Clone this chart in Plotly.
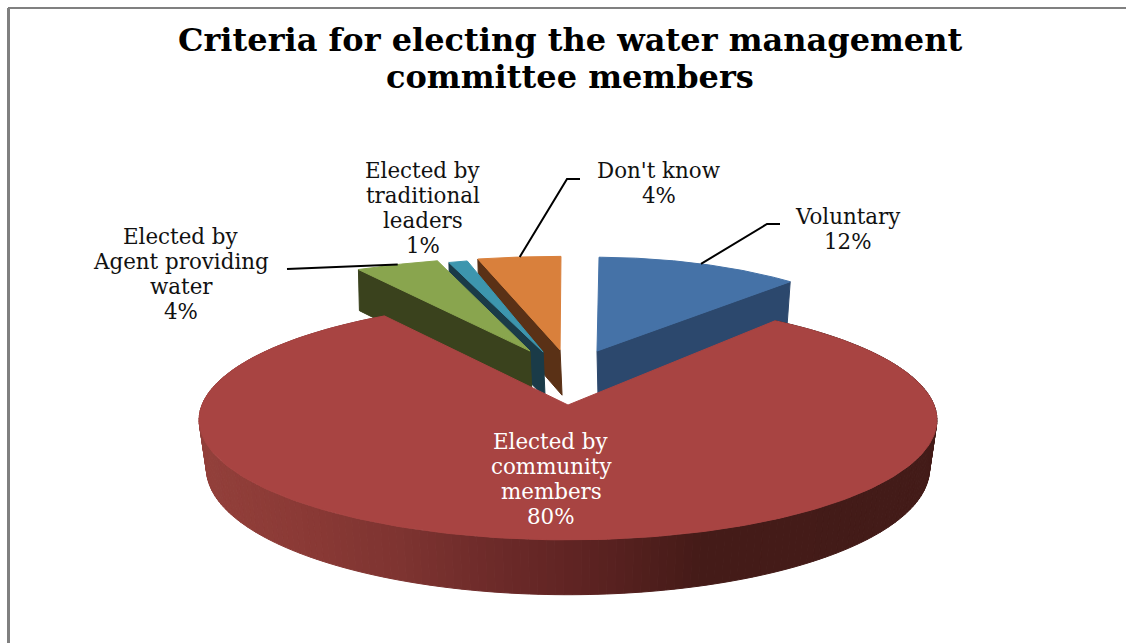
import numpy as np
import plotly.graph_objects as go

# Survey results, in percent
categories = [["Voluntary"], ["Elected by", "community", "members"],
              ["Elected by", "Agent providing", "water"],
              ["Elected by", "traditional", "leaders"], ["Don't know"]]
values = [12, 80, 4, 1, 4]
title_lines = ["Criteria for electing the water management", "committee members"]

# Slice styling: top face, cut wall
top_colors = ["#4572A7", "#A84442", "#89A54E", "#3D96AE", "#D9803C"]
wall_colors = ["#2C486D", "#A84442", "#3A421D", "#1A3B48", "#5A3116"]

# Projection of the pie plane onto the page
CX, CY = 568.0, 405.0
A, B, K = 366.0, 118.0, 0.125
HEIGHT = 48.0
BASE_SHRINK = 0.98
START_DEG = -1.0

# Exploded position of each slice in the pie plane, plus small per-slice fit terms
explode = [(0.084, 0.485), (0.0, 0.0), (-0.11, 0.485), (-0.072, 0.475), (-0.023, 0.495)]
turn_deg = [2.0, -3.8, -1.4, -3.3, -2.6]
x_stretch = [0.88, 1.0, 1.08, 0.97, 1.08]

# Shading along the rim of the large slice (page x, colour)
rim_x = [199, 300, 400, 500, 580, 700, 937]
rim_rgb = [(147, 64, 59), (139, 58, 54), (126, 52, 49), (108, 42, 41), (95, 36, 35), (69, 27, 24), (67, 27, 24)]

# Label placement: centre x, first line y, line step
label_place = [(848, 216, 25), (551, 441, 25), (181, 236, 25), (423, 170, 25), (659, 170, 25)]
LABEL_SIZE = 21.4
TITLE_SIZE = 32
TITLE_X, TITLE_Y, TITLE_STEP = 570, 39.5, 37.5


def project(px, py):
    s = 1.0 / (1.0 + K * py)
    return CX + A * px * s, CY - B * py * s, s


def wedge(i, a0, a1, n=80):
    """Page coordinates of a slice's apex and rim, with the drop of each point."""
    ox, oy = explode[i]
    ang = np.radians(np.linspace(a0 + turn_deg[i], a1 + turn_deg[i], n))
    xa, ya, sa = project(ox, oy)
    xr, yr, sr = project(ox + np.sin(ang), oy + np.cos(ang))
    xr = xa + (xr - xa) * x_stretch[i]
    return (xa, ya, HEIGHT * sa), (xr, yr, HEIGHT * sr)


def poly(xs, ys, color):
    return go.Scatter(x=list(xs), y=list(ys), mode="lines", fill="toself", fillcolor=color,
                      line=dict(color=color, width=1), hoverinfo="skip", showlegend=False)


def lowered(x, y, drop):
    return CX + (x - CX) * BASE_SHRINK, y + drop


fig = go.Figure()

edges = START_DEG + np.cumsum([0] + values) * 3.6
wedges = [wedge(i, edges[i], edges[i + 1], 240 if i == 1 else 80) for i in range(len(values))]

# Small slices at the back, drawn from right to left so nearer walls overlap
for i in [0, 4, 3, 2]:
    (xa, ya, da), (xr, yr, dr) = wedges[i]
    # the cut wall that faces the viewer: trailing edge on the right, leading edge on the left
    xe, ye, de = (xr[-1], yr[-1], dr[-1]) if i == 0 else (xr[0], yr[0], dr[0])
    _, ya2 = lowered(xa, ya, da)
    _, ye2 = lowered(xe, ye, de)
    if i == 0:
        xa2, xe2 = xa + 1, xe - 3
    else:
        xa2, xe2 = xa + 2, xe + 1
    fig.add_trace(poly([xa, xe, xe2, xa2, xa], [ya, ye, ye2, ya2, ya], wall_colors[i]))
    fig.add_trace(poly([xa, *xr, xa], [ya, *yr, ya], top_colors[i]))

# Large slice: shaded rim as narrow strips, then the top face
(xa, ya, da), (xr, yr, dr) = wedges[1]
xb, yb = lowered(xr, yr, dr)
for j in range(len(xr) - 1):
    mid = 0.5 * (xr[j] + xr[j + 1])
    rgb = [np.interp(mid, rim_x, [c[k] for c in rim_rgb]) for k in range(3)]
    color = "rgb(%d,%d,%d)" % tuple(rgb)
    fig.add_trace(poly([xr[j], xr[j + 1], xb[j + 1], xb[j], xr[j]],
                       [yr[j], yr[j + 1], yb[j + 1], yb[j], yr[j]], color))
fig.add_trace(poly([xa, *xr, xa], [ya, *yr, ya], top_colors[1]))


def rim_mid(i):
    _, (xr, yr, _) = wedges[i]
    m = len(xr) // 2
    return float(xr[m]), float(yr[m])


# Leader lines, from the rim of a slice to the elbow beside its label
leaders = []
vx, vy = rim_mid(0)
leaders.append(f"M {vx:.1f} {vy:.1f} L 767 224 L 780 224")
ox_, oy_ = rim_mid(4)
leaders.append(f"M {ox_:.1f} {oy_:.1f} L 567 179 L 580 179")
gx, gy = rim_mid(2)
leaders.append(f"M {gx:.1f} {gy:.1f} L 287 269")

shapes = [dict(type="path", path=p, xref="x", yref="y", line=dict(color="#000000", width=2), layer="above")
          for p in leaders]
# Chart frame
shapes += [
    dict(type="line", xref="x", yref="y", x0=8, x1=1126, y0=8, y1=8, line=dict(color="#808080", width=2)),
    dict(type="line", xref="x", yref="y", x0=8.5, x1=8.5, y0=8, y1=643, line=dict(color="#808080", width=3)),
]

label_font = dict(family="DejaVu Serif", size=LABEL_SIZE, color="#111111")
annotations = []
for i, (x, y0, step) in enumerate(label_place):
    font = dict(label_font, color="#FFFFFF") if i == 1 else label_font
    for n, line in enumerate(categories[i] + [f"{values[i]}%"]):
        annotations.append(dict(x=x, y=y0 + n * step, xref="x", yref="y", text=line, showarrow=False,
                                font=font, xanchor="center", yanchor="middle"))
for n, line in enumerate(title_lines):
    annotations.append(dict(x=TITLE_X, y=TITLE_Y + n * TITLE_STEP, xref="x", yref="y",
                            text=f"<b>{line}</b>", showarrow=False,
                            font=dict(family="DejaVu Serif", size=TITLE_SIZE, color="#000000"),
                            xanchor="center", yanchor="middle"))

fig.update_layout(
    width=1126, height=643, margin=dict(l=0, r=0, t=0, b=0),
    paper_bgcolor="#FFFFFF", plot_bgcolor="#FFFFFF", showlegend=False,
    xaxis=dict(range=[0, 1126], visible=False, fixedrange=True),
    yaxis=dict(range=[643, 0], visible=False, fixedrange=True),
    shapes=shapes, annotations=annotations,
)
fig.write_html("out.html")
